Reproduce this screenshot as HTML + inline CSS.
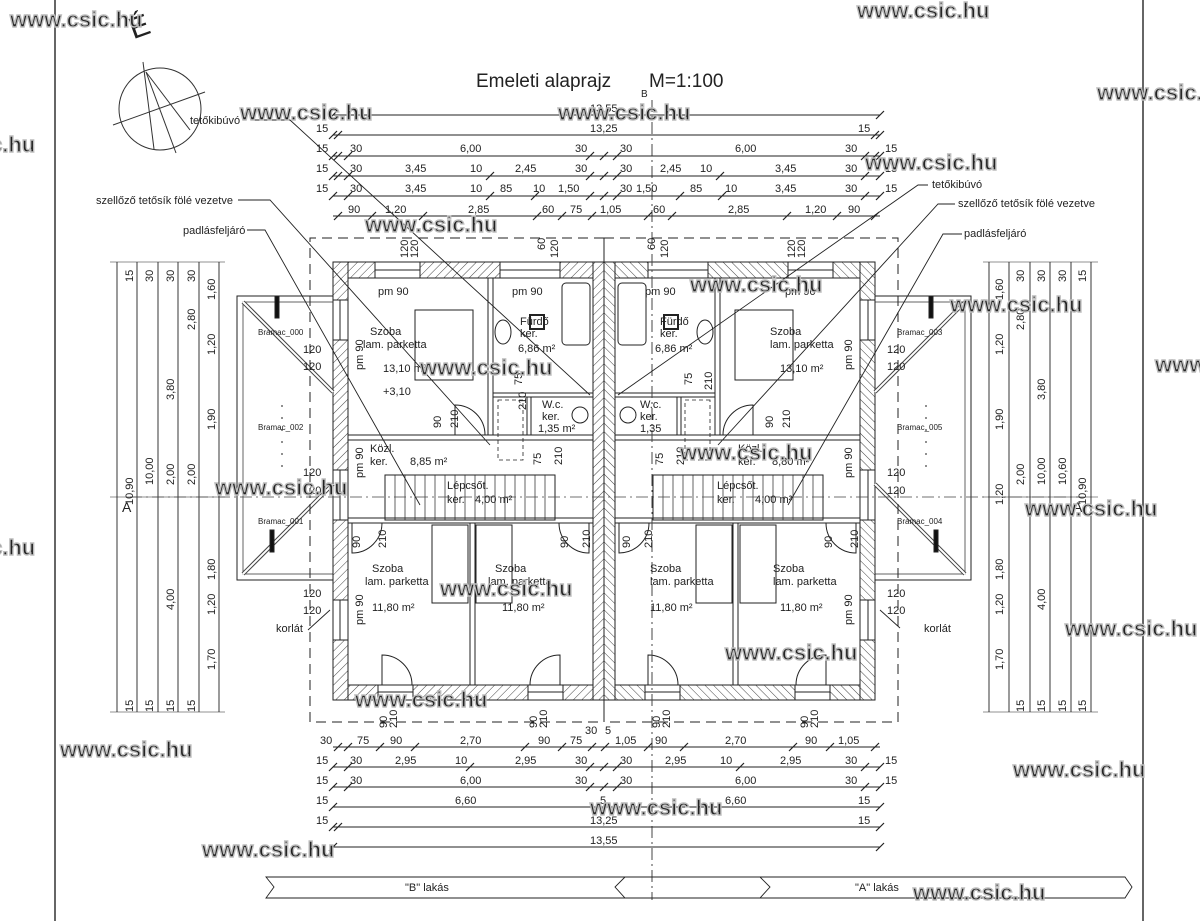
<!DOCTYPE html>
<html><head><meta charset="utf-8"><style>
html,body{margin:0;padding:0;background:#fff}
svg{display:block}
text{font-family:"Liberation Sans",sans-serif;fill:#222}
.d{font-size:11px}
.w{font-family:"Liberation Sans",sans-serif;font-weight:bold;font-size:22px;fill:#fff;stroke:#bdbdbd;stroke-width:1.4}
.r{font-size:11px}
</style></head><body>
<svg width="1200" height="921" viewBox="0 0 1200 921" xmlns="http://www.w3.org/2000/svg">
<defs>
<pattern id="h" width="6" height="6" patternUnits="userSpaceOnUse" patternTransform="rotate(45)">
<rect width="6" height="6" fill="#fff"/><line x1="0" y1="0" x2="0" y2="6" stroke="#444" stroke-width="1"/>
</pattern>
<g id="tick"><line x1="-4" y1="4" x2="4" y2="-4" stroke="#222" stroke-width="1.2"/></g>
<g id="half" stroke="#222" fill="none">
 <rect x="333" y="262" width="271" height="16" fill="url(#h)"/>
 <rect x="333" y="685" width="271" height="15" fill="url(#h)"/>
 <rect x="333" y="262" width="15" height="438" fill="url(#h)"/>
 <rect x="593" y="262" width="11" height="438" fill="url(#h)"/>
 <rect x="375" y="262" width="45" height="16" fill="#fff"/><line x1="375" y1="270" x2="420" y2="270"/>
 <rect x="500" y="262" width="60" height="16" fill="#fff"/><line x1="500" y1="270" x2="560" y2="270"/>
 <rect x="378" y="685" width="35" height="15" fill="#fff"/><line x1="378" y1="692" x2="413" y2="692"/>
 <rect x="528" y="685" width="35" height="15" fill="#fff"/><line x1="528" y1="692" x2="563" y2="692"/>
 <rect x="333" y="300" width="15" height="40" fill="#fff"/><line x1="340" y1="300" x2="340" y2="340"/>
 <rect x="333" y="470" width="15" height="50" fill="#fff"/><line x1="340" y1="470" x2="340" y2="520"/>
 <rect x="333" y="600" width="15" height="40" fill="#fff"/><line x1="340" y1="600" x2="340" y2="640"/>
 <rect x="488" y="278" width="5" height="162" fill="#fff"/>
 <rect x="348" y="435" width="245" height="5" fill="#fff"/>
 <rect x="493" y="393" width="100" height="4" fill="#fff"/>
 <rect x="527" y="397" width="4" height="38" fill="#fff"/>
 <rect x="348" y="518" width="245" height="5" fill="#fff"/>
 <rect x="470" y="523" width="5" height="162" fill="#fff"/>
 <rect x="562" y="283" width="28" height="62" rx="4"/>
 <ellipse cx="503" cy="332" rx="8" ry="12"/>
 <rect x="530" y="315" width="14" height="14" stroke-width="2"/>
 <ellipse cx="580" cy="415" rx="8" ry="8"/>
 <rect x="415" y="310" width="58" height="70"/>
 <rect x="432" y="525" width="36" height="78"/>
 <rect x="476" y="525" width="36" height="78"/>
 <rect x="385" y="475" width="170" height="45"/>
 <path d="M395 475v45M405 475v45M415 475v45M425 475v45M435 475v45M445 475v45M455 475v45M465 475v45M475 475v45M485 475v45M495 475v45M505 475v45M515 475v45M525 475v45M535 475v45M545 475v45" stroke-width="0.7"/>
 <path d="M382 685 v-30 a30 30 0 0 1 30 30" stroke-width="1"/>
 <path d="M560 685 v-30 a30 30 0 0 0 -30 30" stroke-width="1"/>
 <path d="M352 523 v30 a30 30 0 0 0 30 -30" stroke-width="1"/>
 <path d="M589 523 v30 a30 30 0 0 1 -30 -30" stroke-width="1"/>
 <path d="M455 435 v-30 a30 30 0 0 1 30 30" stroke-width="1"/>
 <rect x="498" y="400" width="25" height="60" stroke-dasharray="4 3" stroke-width="0.8"/>
 <rect x="237" y="296" width="96" height="284"/>
 <rect x="243" y="302" width="90" height="272" stroke-width="0.7"/>
 <line x1="243" y1="302" x2="333" y2="392" stroke-width="4" stroke="#444"/>
 <line x1="243" y1="302" x2="333" y2="392" stroke-width="2" stroke="#fff"/>
 <line x1="243" y1="574" x2="333" y2="484" stroke-width="4" stroke="#444"/>
 <line x1="243" y1="574" x2="333" y2="484" stroke-width="2" stroke="#fff"/>
 <rect x="275" y="296" width="4" height="22" fill="#111"/>
 <rect x="270" y="530" width="4" height="22" fill="#111"/>
 <line x1="282" y1="405" x2="282" y2="470" stroke-dasharray="2 10"/>
 <path d="M604 238 H310 V722 H604" stroke-dasharray="10 6" stroke-width="1"/>
 <path d="M117 262V712M137 262V712M158 262V712M178 262V712M199 262V712M219 262V712" stroke-width="0.9"/>
 <path d="M110 262H225M110 712H225M110 497H225" stroke-width="0.6"/>
</g>
</defs>

<line x1="55" y1="0" x2="55" y2="921" stroke="#333" stroke-width="1.5"/>
<line x1="1143" y1="0" x2="1143" y2="921" stroke="#333" stroke-width="1.5"/>

<text x="130" y="40" font-size="30" transform="rotate(-20 130 30)">É</text>
<g stroke="#333" fill="none" stroke-width="1">
<circle cx="160" cy="109" r="41"/>
<line x1="113" y1="125" x2="205" y2="92"/>
<line x1="143" y1="62" x2="154" y2="149"/>
<line x1="146" y1="72" x2="176" y2="153"/>
<line x1="146" y1="72" x2="190" y2="130"/>
</g>

<text x="476" y="87" font-size="19">Emeleti alaprajz</text>
<text x="649" y="87" font-size="19">M=1:100</text>
<text x="641" y="97" font-size="10">B</text>

<use href="#half"/>
<use href="#half" transform="translate(1208,0) scale(-1,1)"/>
<line x1="604" y1="238" x2="604" y2="722" stroke="#222" stroke-width="1"/>
<line x1="652" y1="100" x2="652" y2="900" stroke="#444" stroke-width="1" stroke-dasharray="12 4 2 4"/>
<line x1="130" y1="497" x2="1080" y2="497" stroke="#444" stroke-width="0.8" stroke-dasharray="12 4 2 4"/>

<g stroke="#222" stroke-width="0.9" fill="none">
<path d="M252 120 H290 L590 395"/>
<path d="M238 200 H270 L490 445"/>
<path d="M247 230 H265 L420 505"/>
<path d="M928 185 H918 L618 395"/>
<path d="M955 204 H938 L718 445"/>
<path d="M962 234 H943 L788 505"/>
<path d="M308 630 L330 610"/><path d="M900 628 L880 610"/>
<path d="M266 877 H760 L770 887 L760 898 H266 L274 887 Z"/>
<path d="M625 877 H1125 L1132 887 L1125 898 H625 L615 887 Z"/>
</g>

<g stroke="#222" stroke-width="0.9">
<line x1="333" y1="115" x2="880" y2="115"/>
<line x1="333" y1="135" x2="880" y2="135"/>
<line x1="333" y1="156" x2="880" y2="156"/>
<line x1="333" y1="176" x2="880" y2="176"/>
<line x1="333" y1="196" x2="880" y2="196"/>
<line x1="333" y1="216" x2="880" y2="216"/>
<line x1="333" y1="747" x2="880" y2="747"/>
<line x1="333" y1="767" x2="880" y2="767"/>
<line x1="333" y1="787" x2="880" y2="787"/>
<line x1="333" y1="807" x2="880" y2="807"/>
<line x1="333" y1="827" x2="880" y2="827"/>
<line x1="333" y1="847" x2="880" y2="847"/>
</g>
<g>
<use href="#tick" x="333" y="115"/><use href="#tick" x="880" y="115"/>
<use href="#tick" x="333" y="135"/><use href="#tick" x="338" y="135"/><use href="#tick" x="875" y="135"/><use href="#tick" x="880" y="135"/>
<use href="#tick" x="333" y="156"/><use href="#tick" x="338" y="156"/><use href="#tick" x="348" y="156"/><use href="#tick" x="590" y="156"/><use href="#tick" x="604" y="156"/><use href="#tick" x="617" y="156"/><use href="#tick" x="865" y="156"/><use href="#tick" x="875" y="156"/><use href="#tick" x="880" y="156"/>
<use href="#tick" x="333" y="176"/><use href="#tick" x="338" y="176"/><use href="#tick" x="348" y="176"/><use href="#tick" x="490" y="176"/><use href="#tick" x="590" y="176"/><use href="#tick" x="604" y="176"/><use href="#tick" x="617" y="176"/><use href="#tick" x="720" y="176"/><use href="#tick" x="865" y="176"/><use href="#tick" x="880" y="176"/>
<use href="#tick" x="333" y="196"/><use href="#tick" x="348" y="196"/><use href="#tick" x="490" y="196"/><use href="#tick" x="535" y="196"/><use href="#tick" x="590" y="196"/><use href="#tick" x="604" y="196"/><use href="#tick" x="617" y="196"/><use href="#tick" x="680" y="196"/><use href="#tick" x="722" y="196"/><use href="#tick" x="865" y="196"/><use href="#tick" x="880" y="196"/>
<use href="#tick" x="338" y="216"/><use href="#tick" x="372" y="216"/><use href="#tick" x="423" y="216"/><use href="#tick" x="537" y="216"/><use href="#tick" x="562" y="216"/><use href="#tick" x="592" y="216"/><use href="#tick" x="648" y="216"/><use href="#tick" x="672" y="216"/><use href="#tick" x="787" y="216"/><use href="#tick" x="837" y="216"/><use href="#tick" x="875" y="216"/>
<use href="#tick" x="338" y="747"/><use href="#tick" x="348" y="747"/><use href="#tick" x="380" y="747"/><use href="#tick" x="415" y="747"/><use href="#tick" x="525" y="747"/><use href="#tick" x="562" y="747"/><use href="#tick" x="592" y="747"/><use href="#tick" x="605" y="747"/><use href="#tick" x="648" y="747"/><use href="#tick" x="684" y="747"/><use href="#tick" x="793" y="747"/><use href="#tick" x="830" y="747"/><use href="#tick" x="875" y="747"/>
<use href="#tick" x="333" y="767"/><use href="#tick" x="348" y="767"/><use href="#tick" x="470" y="767"/><use href="#tick" x="590" y="767"/><use href="#tick" x="604" y="767"/><use href="#tick" x="617" y="767"/><use href="#tick" x="740" y="767"/><use href="#tick" x="865" y="767"/><use href="#tick" x="880" y="767"/>
<use href="#tick" x="333" y="787"/><use href="#tick" x="348" y="787"/><use href="#tick" x="590" y="787"/><use href="#tick" x="604" y="787"/><use href="#tick" x="617" y="787"/><use href="#tick" x="865" y="787"/><use href="#tick" x="880" y="787"/>
<use href="#tick" x="333" y="807"/><use href="#tick" x="604" y="807"/><use href="#tick" x="880" y="807"/>
<use href="#tick" x="333" y="827"/><use href="#tick" x="338" y="827"/><use href="#tick" x="880" y="827"/>
<use href="#tick" x="333" y="847"/><use href="#tick" x="880" y="847"/>
</g>
<g class="d">
<text x="590" y="112">13,55</text>
<text x="316" y="132">15</text><text x="590" y="132">13,25</text><text x="858" y="132">15</text>
<text x="316" y="152">15</text><text x="350" y="152">30</text><text x="460" y="152">6,00</text><text x="575" y="152">30</text><text x="620" y="152">30</text><text x="735" y="152">6,00</text><text x="845" y="152">30</text><text x="885" y="152">15</text>
<text x="316" y="172">15</text><text x="350" y="172">30</text><text x="405" y="172">3,45</text><text x="470" y="172">10</text><text x="515" y="172">2,45</text><text x="575" y="172">30</text><text x="620" y="172">30</text><text x="660" y="172">2,45</text><text x="700" y="172">10</text><text x="775" y="172">3,45</text><text x="845" y="172">30</text><text x="885" y="172">15</text>
<text x="316" y="192">15</text><text x="350" y="192">30</text><text x="405" y="192">3,45</text><text x="470" y="192">10</text><text x="500" y="192">85</text><text x="533" y="192">10</text><text x="558" y="192">1,50</text><text x="620" y="192">30</text><text x="636" y="192">1,50</text><text x="690" y="192">85</text><text x="725" y="192">10</text><text x="775" y="192">3,45</text><text x="845" y="192">30</text><text x="885" y="192">15</text>
<text x="348" y="213">90</text><text x="385" y="213">1,20</text><text x="468" y="213">2,85</text><text x="542" y="213">60</text><text x="570" y="213">75</text><text x="600" y="213">1,05</text><text x="653" y="213">60</text><text x="728" y="213">2,85</text><text x="805" y="213">1,20</text><text x="848" y="213">90</text>
<text x="320" y="744">30</text><text x="357" y="744">75</text><text x="390" y="744">90</text><text x="460" y="744">2,70</text><text x="538" y="744">90</text><text x="570" y="744">75</text><text x="615" y="744">1,05</text><text x="655" y="744">90</text><text x="725" y="744">2,70</text><text x="805" y="744">90</text><text x="838" y="744">1,05</text>
<text x="316" y="764">15</text><text x="350" y="764">30</text><text x="395" y="764">2,95</text><text x="455" y="764">10</text><text x="515" y="764">2,95</text><text x="575" y="764">30</text><text x="620" y="764">30</text><text x="665" y="764">2,95</text><text x="720" y="764">10</text><text x="780" y="764">2,95</text><text x="845" y="764">30</text><text x="885" y="764">15</text>
<text x="316" y="784">15</text><text x="350" y="784">30</text><text x="460" y="784">6,00</text><text x="575" y="784">30</text><text x="620" y="784">30</text><text x="735" y="784">6,00</text><text x="845" y="784">30</text><text x="885" y="784">15</text>
<text x="316" y="804">15</text><text x="455" y="804">6,60</text><text x="600" y="804">5</text><text x="725" y="804">6,60</text><text x="858" y="804">15</text>
<text x="316" y="824">15</text><text x="590" y="824">13,25</text><text x="858" y="824">15</text>
<text x="590" y="844">13,55</text>
<text x="585" y="734">30</text><text x="605" y="734">5</text>
</g>

<g class="r">
<text x="190" y="124">tetőkibúvó</text>
<text x="96" y="204">szellőző tetősík fölé vezetve</text>
<text x="183" y="234">padlásfeljáró</text>
<text x="932" y="188">tetőkibúvó</text>
<text x="958" y="207">szellőző tetősík fölé vezetve</text>
<text x="964" y="237">padlásfeljáró</text>
<text x="276" y="632">korlát</text>
<text x="924" y="632">korlát</text>
</g>
<text x="405" y="891" class="r">"B" lakás</text>
<text x="855" y="891" class="r">"A" lakás</text>
<text x="122" y="512" font-size="14">A</text>
<text x="1073" y="512" font-size="14">A</text>

<g class="r">
<text x="378" y="295">pm 90</text><text x="512" y="295">pm 90</text>
<text x="370" y="335">Szoba</text><text x="363" y="348">lam. parketta</text>
<text x="383" y="372">13,10 m²</text><text x="383" y="395">+3,10</text>
<text x="520" y="325">Fürdő</text><text x="520" y="337">ker.</text><text x="518" y="352">6,86 m²</text>
<text x="542" y="408">W.c.</text><text x="542" y="420">ker.</text><text x="538" y="432">1,35 m²</text>
<text x="370" y="452">Közl.</text><text x="370" y="465">ker.</text><text x="410" y="465">8,85 m²</text>
<text x="447" y="489">Lépcsőt.</text><text x="447" y="503">ker.</text><text x="475" y="503">4,00 m²</text>
<text x="372" y="572">Szoba</text><text x="365" y="585">lam. parketta</text><text x="372" y="611">11,80 m²</text>
<text x="495" y="572">Szoba</text><text x="488" y="585">lam. parketta</text><text x="502" y="611">11,80 m²</text>
<text x="645" y="295">pm 90</text><text x="785" y="295">pm 90</text>
<text x="660" y="325">Fürdő</text><text x="660" y="337">ker.</text><text x="655" y="352">6,86 m²</text>
<text x="770" y="335">Szoba</text><text x="770" y="348">lam. parketta</text><text x="780" y="372">13,10 m²</text>
<text x="640" y="408">W.c.</text><text x="640" y="420">ker.</text><text x="640" y="432">1,35</text>
<text x="738" y="452">Közl.</text><text x="738" y="465">ker.</text><text x="772" y="465">8,80 m²</text>
<text x="717" y="489">Lépcsőt.</text><text x="717" y="503">ker.</text><text x="755" y="503">4,00 m²</text>
<text x="650" y="572">Szoba</text><text x="650" y="585">lam. parketta</text><text x="650" y="611">11,80 m²</text>
<text x="773" y="572">Szoba</text><text x="773" y="585">lam. parketta</text><text x="780" y="611">11,80 m²</text>
<text x="258" y="335" font-size="8">Bramac_000</text><text x="258" y="430" font-size="8">Bramac_002</text><text x="258" y="524" font-size="8">Bramac_001</text>
<text x="897" y="335" font-size="8">Bramac_003</text><text x="897" y="430" font-size="8">Bramac_005</text><text x="897" y="524" font-size="8">Bramac_004</text>
<text x="303" y="353">120</text><text x="303" y="370">120</text><text x="303" y="476">120</text><text x="303" y="494">120</text><text x="303" y="597">120</text><text x="303" y="614">120</text>
<text x="887" y="353">120</text><text x="887" y="370">120</text><text x="887" y="476">120</text><text x="887" y="494">120</text><text x="887" y="597">120</text><text x="887" y="614">120</text>
</g>
<g class="r">
<text transform="translate(363,370) rotate(-90)">pm 90</text>
<text transform="translate(363,478) rotate(-90)">pm 90</text>
<text transform="translate(363,625) rotate(-90)">pm 90</text>
<text transform="translate(852,370) rotate(-90)">pm 90</text>
<text transform="translate(852,478) rotate(-90)">pm 90</text>
<text transform="translate(852,625) rotate(-90)">pm 90</text>
<text transform="translate(441,428) rotate(-90)">90</text><text transform="translate(458,428) rotate(-90)">210</text>
<text transform="translate(522,385) rotate(-90)">75</text><text transform="translate(526,410) rotate(-90)">210</text>
<text transform="translate(541,465) rotate(-90)">75</text><text transform="translate(562,465) rotate(-90)">210</text>
<text transform="translate(360,548) rotate(-90)">90</text><text transform="translate(386,548) rotate(-90)">210</text>
<text transform="translate(568,548) rotate(-90)">90</text><text transform="translate(590,548) rotate(-90)">210</text>
<text transform="translate(630,548) rotate(-90)">90</text><text transform="translate(652,548) rotate(-90)">210</text>
<text transform="translate(832,548) rotate(-90)">90</text><text transform="translate(858,548) rotate(-90)">210</text>
<text transform="translate(663,465) rotate(-90)">75</text><text transform="translate(684,465) rotate(-90)">210</text>
<text transform="translate(692,385) rotate(-90)">75</text><text transform="translate(712,390) rotate(-90)">210</text>
<text transform="translate(773,428) rotate(-90)">90</text><text transform="translate(790,428) rotate(-90)">210</text>
<text transform="translate(387,728) rotate(-90)">90</text><text transform="translate(397,728) rotate(-90)">210</text>
<text transform="translate(537,728) rotate(-90)">90</text><text transform="translate(547,728) rotate(-90)">210</text>
<text transform="translate(660,728) rotate(-90)">90</text><text transform="translate(670,728) rotate(-90)">210</text>
<text transform="translate(808,728) rotate(-90)">90</text><text transform="translate(818,728) rotate(-90)">210</text>
<text transform="translate(408,258) rotate(-90)">120</text><text transform="translate(418,258) rotate(-90)">120</text>
<text transform="translate(545,250) rotate(-90)">60</text><text transform="translate(558,258) rotate(-90)">120</text>
<text transform="translate(655,250) rotate(-90)">60</text><text transform="translate(668,258) rotate(-90)">120</text>
<text transform="translate(795,258) rotate(-90)">120</text><text transform="translate(805,258) rotate(-90)">120</text>
<text transform="translate(133,505) rotate(-90)">10,90</text><text transform="translate(153,485) rotate(-90)">10,00</text>
<text transform="translate(174,485) rotate(-90)">2,00</text><text transform="translate(195,485) rotate(-90)">2,00</text>
<text transform="translate(215,300) rotate(-90)">1,60</text><text transform="translate(195,330) rotate(-90)">2,80</text>
<text transform="translate(174,400) rotate(-90)">3,80</text><text transform="translate(215,355) rotate(-90)">1,20</text>
<text transform="translate(215,430) rotate(-90)">1,90</text><text transform="translate(215,580) rotate(-90)">1,80</text>
<text transform="translate(174,610) rotate(-90)">4,00</text><text transform="translate(215,615) rotate(-90)">1,20</text>
<text transform="translate(215,670) rotate(-90)">1,70</text>
<text transform="translate(1003,505) rotate(-90)">1,20</text><text transform="translate(1024,485) rotate(-90)">2,00</text>
<text transform="translate(1045,485) rotate(-90)">10,00</text><text transform="translate(1086,505) rotate(-90)">10,90</text>
<text transform="translate(1066,485) rotate(-90)">10,60</text>
<text transform="translate(1003,300) rotate(-90)">1,60</text><text transform="translate(1024,330) rotate(-90)">2,80</text>
<text transform="translate(1045,400) rotate(-90)">3,80</text><text transform="translate(1003,355) rotate(-90)">1,20</text>
<text transform="translate(1003,430) rotate(-90)">1,90</text><text transform="translate(1003,580) rotate(-90)">1,80</text>
<text transform="translate(1045,610) rotate(-90)">4,00</text><text transform="translate(1003,615) rotate(-90)">1,20</text>
<text transform="translate(1003,670) rotate(-90)">1,70</text>
<text transform="translate(133,282) rotate(-90)">15</text><text transform="translate(153,282) rotate(-90)">30</text><text transform="translate(174,282) rotate(-90)">30</text><text transform="translate(195,282) rotate(-90)">30</text>
<text transform="translate(133,712) rotate(-90)">15</text><text transform="translate(153,712) rotate(-90)">15</text><text transform="translate(174,712) rotate(-90)">15</text><text transform="translate(195,712) rotate(-90)">15</text>
<text transform="translate(1024,282) rotate(-90)">30</text><text transform="translate(1045,282) rotate(-90)">30</text><text transform="translate(1066,282) rotate(-90)">30</text><text transform="translate(1086,282) rotate(-90)">15</text>
<text transform="translate(1024,712) rotate(-90)">15</text><text transform="translate(1045,712) rotate(-90)">15</text><text transform="translate(1066,712) rotate(-90)">15</text><text transform="translate(1086,712) rotate(-90)">15</text>
</g>

<g class="w">
<text x="10" y="27">www.csic.hu</text>
<text x="857" y="18">www.csic.hu</text>
<text x="1097" y="100">www.csic.hu</text>
<text x="240" y="120">www.csic.hu</text>
<text x="558" y="120">www.csic.hu</text>
<text x="-10" y="152">c.hu</text>
<text x="865" y="170">www.csic.hu</text>
<text x="365" y="232">www.csic.hu</text>
<text x="1155" y="372">www.</text>
<text x="690" y="292">www.csic.hu</text>
<text x="950" y="312">www.csic.hu</text>
<text x="420" y="375">www.csic.hu</text>
<text x="680" y="460">www.csic.hu</text>
<text x="215" y="495">www.csic.hu</text>
<text x="1025" y="516">www.csic.hu</text>
<text x="-10" y="555">c.hu</text>
<text x="440" y="596">www.csic.hu</text>
<text x="1065" y="636">www.csic.hu</text>
<text x="725" y="660">www.csic.hu</text>
<text x="355" y="707">www.csic.hu</text>
<text x="60" y="757">www.csic.hu</text>
<text x="1013" y="777">www.csic.hu</text>
<text x="590" y="815">www.csic.hu</text>
<text x="202" y="857">www.csic.hu</text>
<text x="913" y="900">www.csic.hu</text>
</g>
</svg>
</body></html>
